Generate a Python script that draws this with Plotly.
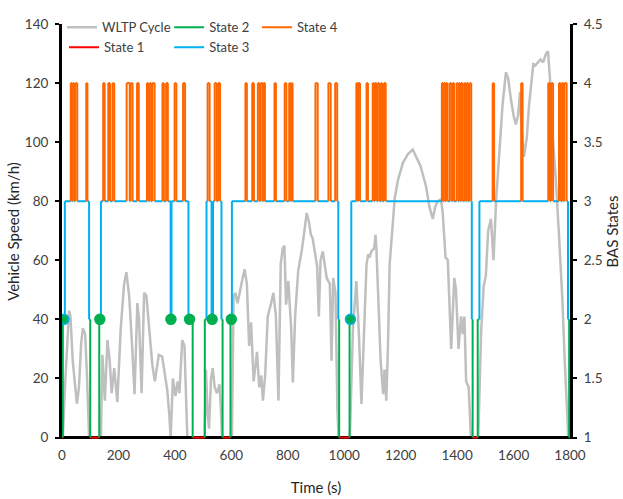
import plotly.graph_objects as go

# WLTP class 3 drive cycle: time (s) and vehicle speed (km/h)
wltp_time = [0, 3, 10, 18, 25, 30, 38, 45, 53, 60, 68, 74, 82, 88, 96,
             138, 143, 152, 161, 169, 176, 185, 196, 208, 220, 228, 238, 249, 257,
             267, 273, 282, 291, 299, 308, 320, 329, 343, 355, 365, 373, 380, 385,
             393, 402, 410, 416, 426, 434, 444,
             505, 510, 516, 521, 528, 534, 541, 549, 558, 563, 567,
             602, 608, 614, 622, 638, 647, 655, 663, 670, 679, 691, 699, 706, 712,
             720, 729, 741, 749, 758, 767, 775, 782, 788, 794, 802, 812, 818, 826,
             837, 849, 859, 867, 875, 882, 888, 896, 904, 910, 916, 924, 938, 949,
             955, 961, 969, 976, 980,
             1020, 1031, 1043, 1052, 1061, 1070, 1079, 1085, 1090, 1096, 1106, 1111,
             1114, 1120, 1129, 1138, 1143, 1149, 1155, 1161, 1169, 1179, 1190, 1208,
             1226, 1243, 1255, 1270, 1290, 1302, 1314, 1322, 1331, 1343, 1349, 1359,
             1367, 1379, 1390, 1396, 1405, 1414, 1420, 1426, 1432, 1441, 1449,
             1475, 1485, 1494, 1502, 1510, 1520, 1529, 1538, 1549, 1561, 1573, 1581,
             1590, 1600, 1608, 1616, 1623, 1629, 1637, 1647, 1655, 1663, 1670, 1677,
             1688, 1696, 1705, 1714, 1722, 1729, 1737, 1749, 1761, 1773, 1782, 1790,
             1794, 1800]
wltp_speed = [0, 0, 16, 30, 43, 41, 26, 19, 11.5, 17, 32, 37, 35, 22, 0,
              0, 28, 12.5, 33, 26, 15, 23.5, 12, 36.7, 52, 56, 48, 30, 14.7,
              45.5, 40, 15, 49, 48, 38, 24.7, 19, 28, 27.4, 21.4, 16, 8, 0,
              20, 14, 19, 15, 33, 31, 0,
              0, 23, 8, 3, 20, 23.5, 17, 15, 18, 10, 0,
              0, 47.7, 49, 45.5, 53, 57, 52, 31, 39, 19, 29, 17, 21, 12.5,
              21.4, 41, 45.5, 49, 41, 12.5, 58.7, 64, 65, 45, 53, 37, 18.6, 41,
              56.5, 63, 70, 76, 73, 68.6, 67.5, 62, 58, 41, 60, 63, 54, 52,
              26, 54, 49, 9, 0,
              0, 37, 53, 35, 11.4, 37, 58.7, 62, 61, 63, 64, 68.6,
              64, 49, 26, 14.7, 23, 12.5, 31, 58.7, 70, 81, 87, 93,
              96, 97.5, 95, 92, 85, 78, 74, 78, 80, 80.6, 76, 61,
              60, 30, 54, 50, 30, 41, 35, 41, 19, 17, 0,
              0, 35.6, 51, 55, 70, 74, 60, 80, 96, 112.6, 123.7, 121.6,
              115, 109, 106, 109, 117, 104, 95, 101.6, 112.6, 121.5, 126.4, 126,
              127, 128, 127, 129.7, 130.8, 121.5, 104, 88.5, 68.6, 46.6, 24.6, 8,
              0, 0]

# BAS state changes between states 1-3: time (s) and the state entered
mode_change_time = [3, 10, 96, 100, 132, 138, 385, 388, 448, 463, 506, 512,
                    530, 535, 565, 569, 597, 602, 979, 982, 1019, 1025,
                    1452, 1455, 1473, 1479, 1793, 1797]
mode_change_state = [2, 3, 2, 1, 2, 3, 2, 3, 2, 1, 2, 3,
                     2, 3, 2, 1, 2, 3, 2, 1, 2, 3,
                     2, 1, 2, 3, 2, 1]

# State 4 pulses (start and end time, s)
state4_start = [31, 38, 47, 86,
                146, 164, 179, 229, 243, 266, 301, 310, 320, 356, 369, 399, 429,
                516, 541, 553,
                650, 674, 694, 704, 714, 753, 789, 805, 813, 898, 944, 968,
                1043, 1050, 1079, 1101, 1109, 1119, 1130, 1141,
                1346, 1353, 1361, 1374, 1384, 1398, 1407, 1414, 1426, 1434, 1444,
                1526, 1627, 1723, 1733, 1761, 1772, 1780]
state4_end = [35, 43, 54, 90,
              151, 170, 185, 240, 250, 272, 306, 316, 328, 361, 375, 405, 436,
              523, 548, 560,
              655, 680, 700, 711, 719, 758, 795, 810, 817, 906, 952, 975,
              1048, 1056, 1084, 1106, 1115, 1125, 1135, 1147,
              1350, 1358, 1366, 1380, 1389, 1404, 1411, 1420, 1431, 1439, 1450,
              1531, 1632, 1729, 1740, 1767, 1777, 1788]

# Markers on the state 2 level
state2_marker_time = [7, 134, 386, 452, 532, 600, 1022]
state2_marker_edge = ["#00B0F0", "#00B050", "#00B050", "#00B050", "#00B050", "#00B050", "#00B0F0"]

T_END = 1800
RED, GREEN, BLUE, ORANGE, GREY = "#FF0000", "#00B050", "#00B0F0", "#FF6600", "#BFBFBF"

# Merge all state changes into one step signal
events = list(zip(mode_change_time, mode_change_state))
events += [(t, 4) for t in state4_start] + [(t, 3) for t in state4_end]
events.sort()

level_colour = {1: RED, 2: GREEN, 3: BLUE, 4: ORANGE}   # flat parts at each level
band_colour = {1: GREEN, 2: BLUE, 3: ORANGE}             # risers between level k and k+1
paths = {c: ([], []) for c in (RED, GREEN, BLUE, ORANGE)}


def add_seg(colour, xs, ys):
    px, py = paths[colour]
    px.extend(xs + [None])
    py.extend(ys + [None])


cur_t, cur_s = 0, 1
for t, s in events:
    add_seg(level_colour[cur_s], [cur_t, t], [cur_s, cur_s])
    lo, hi = min(cur_s, s), max(cur_s, s)
    for k in range(lo, hi):
        add_seg(band_colour[k], [t, t], [k, k + 1])
    cur_t, cur_s = t, s
add_seg(level_colour[cur_s], [cur_t, T_END], [cur_s, cur_s])

fig = go.Figure()
fig.add_trace(go.Scatter(x=wltp_time, y=wltp_speed, name="WLTP Cycle", mode="lines",
                         line=dict(color=GREY, width=2.5), legend="legend"))
# bottom axis line, drawn as a trace so the state 1 line can sit on it
fig.add_trace(go.Scatter(x=[0, T_END], y=[0, 0], mode="lines", showlegend=False,
                         line=dict(color="black", width=3), hoverinfo="skip"))

for name, colour, leg in [("State 1", RED, "legend2"), ("State 2", GREEN, "legend3"),
                          ("State 3", BLUE, "legend4"), ("State 4", ORANGE, "legend5")]:
    fig.add_trace(go.Scatter(x=paths[colour][0], y=paths[colour][1], name=name,
                             mode="lines", line=dict(color=colour, width=2),
                             yaxis="y2", legend=leg, connectgaps=False))

fig.add_trace(go.Scatter(x=state2_marker_time, y=[2] * len(state2_marker_time),
                         mode="markers", yaxis="y2", showlegend=False,
                         marker=dict(color=GREEN, size=10,
                                     line=dict(color=state2_marker_edge, width=1.5))))

font = dict(family="Lato", size=13.5, color="#404040")
legend_font = dict(family="Lato", size=13, color="#404040")
title_font = dict(family="Lato", size=15, color="#262626")


def legend_at(x, y):
    return dict(orientation="h", x=x, y=y, xanchor="left", yanchor="top",
                bgcolor="rgba(0,0,0,0)", font=legend_font, itemwidth=30)


fig.update_layout(
    width=623, height=499,
    margin=dict(l=62, r=53, t=15, b=60),
    plot_bgcolor="white", paper_bgcolor="white",
    font=font,
    xaxis=dict(range=[0, T_END], tickvals=list(range(0, 1801, 200)), showline=False,
               showgrid=False, zeroline=False, ticks="", automargin=False,
               ticklabelstandoff=6,
               title=dict(text="Time (s)", standoff=20, font=title_font)),
    yaxis=dict(range=[-0.5, 140], tickvals=list(range(0, 141, 20)), showline=True,
               linecolor="black", linewidth=3, ticks="outside", ticklen=4, tickwidth=2,
               tickcolor="black", showgrid=False, zeroline=False, ticklabelstandoff=4,
               automargin=False,
               title=dict(text="Vehicle Speed (km/h)", standoff=2, font=title_font)),
    yaxis2=dict(range=[1 - 0.5 / 40, 4.5], overlaying="y", side="right",
                tickvals=[1, 1.5, 2, 2.5, 3, 3.5, 4, 4.5],
                ticktext=["1", "1.5", "2", "2.5", "3", "3.5", "4", "4.5"],
                showline=True, linecolor="black", linewidth=3, ticks="outside",
                ticklen=4, tickwidth=2, tickcolor="black", showgrid=False,
                zeroline=False, ticklabelstandoff=4, automargin=False,
                title=dict(text="BAS States", standoff=2, font=title_font)),
    legend=legend_at(0.0, 1.028),
    legend2=legend_at(0.004, 0.98),
    legend3=legend_at(0.211, 1.028),
    legend4=legend_at(0.211, 0.98),
    legend5=legend_at(0.384, 1.028),
)

fig.write_html("out.html")
